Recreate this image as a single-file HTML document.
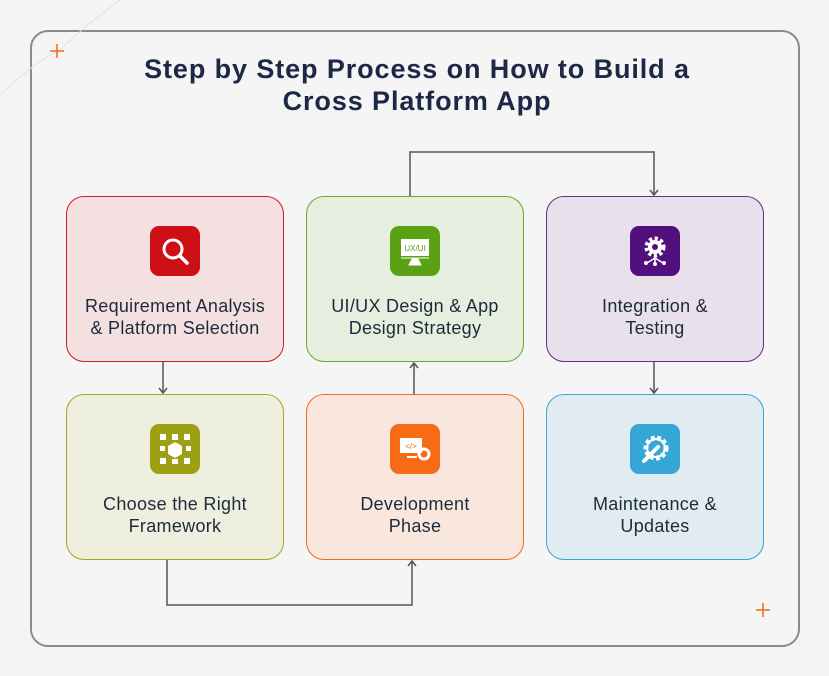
<!DOCTYPE html>
<html><head><meta charset="utf-8"><style>
html,body{margin:0;padding:0;background:#f4f4f4;}
body{width:829px;height:676px;position:relative;overflow:hidden;font-family:"Liberation Sans",sans-serif;}
.frame{position:absolute;left:30px;top:30px;width:766px;height:613px;border:2px solid #8a8a8a;border-radius:18px;background:#f5f5f5;}
.title{position:absolute;left:0;width:834px;top:53px;text-align:center;font-size:27px;line-height:32px;font-weight:bold;color:#1d2746;letter-spacing:0.9px;}
.box{position:absolute;width:216px;height:164px;border:1px solid;border-radius:18px;}
.icon{position:absolute;left:83px;top:29px;width:50px;height:50px;border-radius:9px;}
.lbl{position:absolute;left:-10px;width:236px;top:98px;text-align:center;font-size:18px;line-height:22px;color:#1d2a3a;letter-spacing:0.3px;}
svg.c{position:absolute;left:0;top:0;}
</style></head><body>
<div class="frame"></div>
<svg class="c" width="829" height="676">
<path d="M0 95 Q30 65 60 50 Q80 30 120 0" stroke="#e2e2e2" fill="none"/>
<g stroke="#f26b1d" stroke-width="1.5"><path d="M57 44v14M50 51h14"/><path d="M763 603v14M756 610h14"/></g>
</svg>
<div class="title">Step by Step Process on How to Build a<br>Cross Platform App</div>

<div class="box" style="left:66px;top:196px;background:#f5e0e1;border-color:#cf1a22">
<div class="icon" style="background:#cc1016"><svg width="50" height="50"><circle cx="23" cy="23" r="9" stroke="#fff" stroke-width="3" fill="none"/><path d="M30 30l7 7" stroke="#fff" stroke-width="3.5" stroke-linecap="round"/></svg></div>
<div class="lbl">Requirement Analysis<br>&amp; Platform Selection</div></div>

<div class="box" style="left:306px;top:196px;background:#e6eedf;border-color:#6aaa2a">
<div class="icon" style="background:#5aa114"><svg width="50" height="50"><rect x="11" y="13" width="28" height="17" fill="#fff"/><text x="25" y="25" font-size="8" text-anchor="middle" fill="#5aa114" font-family="Liberation Sans">UX/UI</text><path d="M11 32h28M22 33l-3 6h12l-3-6z" stroke="#fff" fill="#fff"/></svg></div>
<div class="lbl">UI/UX Design &amp; App<br>Design Strategy</div></div>

<div class="box" style="left:546px;top:196px;background:#e8e1ec;border-color:#6a2c8a">
<div class="icon" style="background:#52107e"><svg width="50" height="50"><circle cx="25" cy="21" r="8" fill="none" stroke="#fff" stroke-width="5" stroke-dasharray="3 2.3"/><circle cx="25" cy="21" r="7" fill="#fff"/><circle cx="25" cy="21" r="3" fill="#52107e"/><path d="M25 30v7M25 32l-8 5M25 32l8 5" stroke="#fff" stroke-width="1.5"/><circle cx="16" cy="37" r="2" fill="#fff"/><circle cx="34" cy="37" r="2" fill="#fff"/><circle cx="25" cy="38" r="2" fill="#fff"/></svg></div>
<div class="lbl">Integration &amp;<br>Testing</div></div>

<div class="box" style="left:66px;top:394px;background:#eeefdf;border-color:#a6a81a">
<div class="icon" style="background:#9ea014"><svg width="50" height="50"><g fill="#fff"><rect x="10" y="10" width="6" height="6"/><rect x="22" y="10" width="6" height="6"/><rect x="34" y="10" width="6" height="6"/><rect x="10" y="34" width="6" height="6"/><rect x="22" y="35" width="6" height="5"/><rect x="34" y="34" width="6" height="6"/><rect x="10" y="22" width="5" height="5"/><rect x="36" y="22" width="5" height="5"/><path d="M25 18l7 4v8l-7 4-7-4v-8z"/></g></svg></div>
<div class="lbl">Choose the Right<br>Framework</div></div>

<div class="box" style="left:306px;top:394px;background:#f9e6dc;border-color:#f26b1d">
<div class="icon" style="background:#f76a16"><svg width="50" height="50"><rect x="10" y="14" width="22" height="15" fill="#fff"/><text x="21" y="25" font-size="8" text-anchor="middle" fill="#f76a16" font-family="Liberation Sans">&lt;/&gt;</text><path d="M17 33h10" stroke="#fff" stroke-width="2"/><circle cx="34" cy="30" r="5" fill="none" stroke="#fff" stroke-width="3"/></svg></div>
<div class="lbl">Development<br>Phase</div></div>

<div class="box" style="left:546px;top:394px;background:#e0ecf1;border-color:#3aa6d3">
<div class="icon" style="background:#35a7d6"><svg width="50" height="50"><circle cx="26" cy="24" r="10" fill="none" stroke="#fff" stroke-width="5" stroke-dasharray="3.5 2.5"/><circle cx="26" cy="24" r="9" fill="none" stroke="#fff" stroke-width="2"/><path d="M14 37l14-14" stroke="#fff" stroke-width="4" stroke-linecap="round"/></svg></div>
<div class="lbl">Maintenance &amp;<br>Updates</div></div>

<svg class="c" width="829" height="676" fill="none" stroke="#555" stroke-width="1.5">
<path d="M410 196V152H654V195"/><path d="M650 190l4 5 4-5"/>
<path d="M163 362V393"/><path d="M159 388l4 5 4-5"/>
<path d="M414 394V363"/><path d="M410 368l4-5 4 5"/>
<path d="M654 362V393"/><path d="M650 388l4 5 4-5"/>
<path d="M167 560V605H412V561"/><path d="M408 566l4-5 4 5"/>
</svg>
</body></html>
